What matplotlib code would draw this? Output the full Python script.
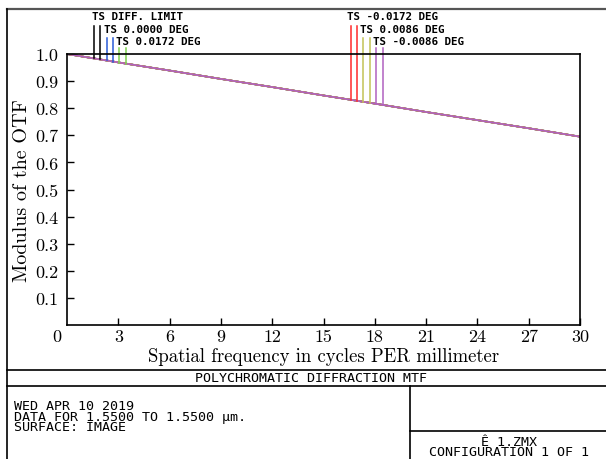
import numpy as np
import matplotlib
matplotlib.use("Agg")
import matplotlib.pyplot as plt
from matplotlib.lines import Line2D

# data
freq = [0, 3, 6, 9, 12, 15, 18, 21, 24, 27, 30]
mtf = [1.000, 0.969, 0.939, 0.908, 0.878, 0.847, 0.817, 0.786, 0.756, 0.726, 0.695]

series = ["TS DIFF. LIMIT", "TS 0.0000 DEG", "TS 0.0172 DEG",
          "TS -0.0172 DEG", "TS 0.0086 DEG", "TS -0.0086 DEG"]
colors = ["black", "#2a5bd7", "#7fd34e", "#ff2a2a", "#c2c255", "#b060c0"]
# x positions of the T / S marker pairs for each series
marker_x = [(1.58, 1.93), (2.32, 2.71), (3.06, 3.45),
            (16.59, 16.94), (17.31, 17.72), (18.07, 18.46)]
marker_top = [1.103, 1.059, 1.022, 1.103, 1.059, 1.022]

xticks = [3, 6, 9, 12, 15, 18, 21, 24, 27, 30]
yticks = [0.1, 0.2, 0.3, 0.4, 0.5, 0.6, 0.7, 0.8, 0.9, 1.0]

info = ["WED APR 10 2019", "DATA FOR 1.5500 TO 1.5500 \u00b5m.", "SURFACE: IMAGE"]
config = ["\u00ca 1.ZMX", "CONFIGURATION 1 OF 1"]

W, H = 606, 460
fig = plt.figure(figsize=(W / 100, H / 100), dpi=100)
ax = fig.add_axes([67 / W, 1 - 326 / H, 513 / W, 271 / H])

serif = "cmr10"
mono_top = dict(family="DejaVu Sans Mono", fontsize=7.8, fontweight="bold")
mono_box = dict(family="DejaVu Sans Mono", fontsize=9.6)

# curves (all coincide, last one on top)
for c in colors:
    ax.plot(freq, mtf, color=c, lw=1.2)

# marker lines from curve up above the frame
for (xa, xb), top, c in zip(marker_x, marker_top, colors):
    for xm in (xa, xb):
        ym = np.interp(xm, freq, mtf)
        ax.plot([xm, xm], [ym, top], color=c, lw=1.1, clip_on=False)

ax.set_xlim(0, 30)
ax.set_ylim(0, 1.0)
ax.set_xticks(xticks)
ax.set_xticklabels([str(t) for t in xticks], family=serif, fontsize=13)
ax.set_yticks(yticks)
ax.set_yticklabels([f"{t:.1f}" for t in yticks], family=serif, fontsize=13)
ax.tick_params(direction="in", length=5, width=1, color="black",
               top=False, right=False)
ax.tick_params(axis="x", pad=3)
ax.tick_params(axis="y", pad=6)
for s in ax.spines.values():
    s.set_linewidth(1.2)
ax.text(-0.3, -0.042, "0", family=serif, fontsize=13, ha="right", va="center",
        transform=ax.transData, clip_on=False)

ax.set_xlabel("Spatial frequency in cycles PER millimeter", family=serif,
              fontsize=13.5, labelpad=2)
ax.set_ylabel("Modulus of the OTF", family=serif, fontsize=14.5, labelpad=3)

# series labels above the plot
label_pos = [(92, 17), (104, 30), (116, 42), (347, 17), (360, 30), (373, 42)]
for (px, py), name in zip(label_pos, series):
    fig.text(px / W, 1 - py / H, name, ha="left", va="center", **mono_top)

# frame and table lines (pixel coords)
def hline(y, x0, x1, lw=1.2, color="black"):
    fig.add_artist(Line2D([x0 / W, x1 / W], [1 - y / H, 1 - y / H],
                          color=color, lw=lw, transform=fig.transFigure))

def vline(x, y0, y1, lw=1.2, color="black"):
    fig.add_artist(Line2D([x / W, x / W], [1 - y0 / H, 1 - y1 / H],
                          color=color, lw=lw, transform=fig.transFigure))

hline(10, 7, 606, lw=1.6, color="#555555")
vline(7, 10, 460)
hline(371, 7, 606)
hline(387, 7, 606)
vline(410, 387, 460)
hline(432, 410, 606)

fig.text(311 / W, 1 - 379 / H, "POLYCHROMATIC DIFFRACTION MTF",
         ha="center", va="center", **mono_box)
fig.text(14 / W, 1 - 400 / H, "\n".join(info), ha="left", va="top",
         linespacing=0.76, **mono_box)
fig.text(509 / W, 1 - 459.5 / H, "\n".join(config), ha="center", va="bottom",
         linespacing=0.74, multialignment="center", **mono_box)

fig.savefig("out.png", dpi=100)
